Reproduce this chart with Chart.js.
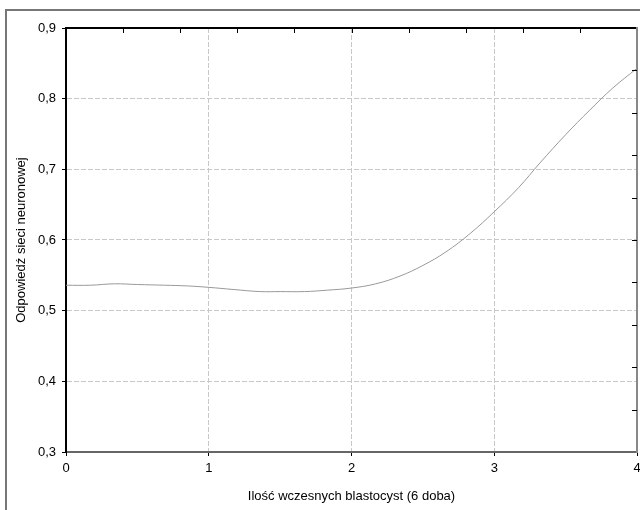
<!DOCTYPE html>
<html>
<head>
<meta charset="utf-8">
<script src="https://cdn.jsdelivr.net/npm/chart.js@4/dist/chart.umd.min.js"></script>
<style>
  body { margin: 0; background: #fff; }
  #wrap { position: relative; width: 640px; height: 510px; overflow: hidden; }
  #frame { position: absolute; left: 5px; top: 9px; width: 700px; height: 600px;
           border-left: 2px solid #777; border-top: 2px solid #777; }
  canvas { position: absolute; left: 0; top: 0; }
</style>
</head>
<body>
<div id="wrap">
  <div id="frame"></div>
  <canvas id="chart" width="640" height="510"></canvas>
</div>
<script>
// values
const xValues = [0, 0.17, 0.34, 0.5, 0.69, 0.85, 1.0, 1.17, 1.36, 1.5, 1.67, 1.83, 2.0, 2.17, 2.34, 2.5, 2.66, 2.83, 3.0, 3.17, 3.32, 3.5, 3.67, 3.83, 4.0];
const yValues = [0.536, 0.536, 0.538, 0.537, 0.536, 0.535, 0.533, 0.530, 0.527, 0.527, 0.527, 0.529, 0.532, 0.538, 0.549, 0.564, 0.583, 0.609, 0.640, 0.674, 0.709, 0.749, 0.784, 0.815, 0.843];

const xTitle = "Ilość wczesnych blastocyst (6 doba)";
const yTitle = "Odpowiedź sieci neuronowej";

const fontFam = "'Liberation Sans', Arial, sans-serif";

// inner tick marks on the top and right frame
const innerTicks = {
  id: 'innerTicks',
  afterDraw(chart) {
    const ctx = chart.ctx, a = chart.chartArea;
    const top = chart.scales.x2, right = chart.scales.y2;
    ctx.save();
    ctx.strokeStyle = '#000';
    ctx.lineWidth = 1;
    top.ticks.forEach(t => {
      if (t.value <= 0 || t.value >= 4) return;
      const px = Math.round(top.getPixelForValue(t.value)) + 0.5;
      ctx.beginPath(); ctx.moveTo(px, a.top); ctx.lineTo(px, a.top + 5); ctx.stroke();
    });
    right.ticks.forEach(t => {
      if (t.value <= 0.3 || t.value >= 0.9) return;
      const py = Math.round(right.getPixelForValue(t.value)) + 0.5;
      ctx.beginPath(); ctx.moveTo(a.right, py); ctx.lineTo(a.right - 5, py); ctx.stroke();
    });
    ctx.restore();
  }
};

const gridColor = ctx => (ctx.tick && ctx.index > 0 && ctx.index < ctx.scale.ticks.length - 1) ? '#c8c8c8' : 'rgba(0,0,0,0)';

new Chart(document.getElementById('chart'), {
  type: 'line',
  data: {
    datasets: [{
      data: xValues.map((x, i) => ({x: x, y: yValues[i]})),
      borderColor: '#999',
      borderWidth: 1,
      pointRadius: 0,
      tension: 0.4,
      fill: false
    }]
  },
  plugins: [innerTicks],
  options: {
    responsive: false,
    animation: false,
    events: [],
    layout: { padding: { left: 0, top: 28, right: 3, bottom: 0 } },
    plugins: { legend: { display: false }, tooltip: { enabled: false } },
    scales: {
      x: {
        type: 'linear', position: 'bottom', min: 0, max: 4,
        afterFit: s => { s.height = 58; s.paddingLeft = 0; s.paddingRight = 0; },
        ticks: { stepSize: 1, color: '#000', padding: 5, font: { family: fontFam, size: 13 }, maxRotation: 0 },
        grid: { color: gridColor, tickColor: '#000', tickLength: 4, lineWidth: 1 },
        border: { color: '#666', width: 2, dash: [5, 2] },
        title: { display: true, text: xTitle, color: '#000', font: { family: fontFam, size: 13 }, padding: { top: 0, bottom: 6 } }
      },
      y: {
        type: 'linear', position: 'left', min: 0.3, max: 0.9,
        afterFit: s => { s.width = 66; },
        ticks: { stepSize: 0.1, color: '#000', padding: 6, font: { family: fontFam, size: 13 },
                 callback: v => v.toFixed(1).replace('.', ',') },
        grid: { color: gridColor, tickColor: '#000', tickLength: 4, lineWidth: 1 },
        border: { color: '#000', width: 2, dash: [5, 2] },
        title: { display: true, text: yTitle, color: '#000', font: { family: fontFam, size: 13 }, padding: { top: 14, bottom: 0 } }
      },
      x2: {
        type: 'linear', position: 'top', min: 0, max: 4,
        afterFit: s => { s.height = 0; s.paddingLeft = 0; s.paddingRight = 0; },
        ticks: { stepSize: 0.4, display: false },
        grid: { drawOnChartArea: false, drawTicks: false },
        border: { color: '#000', width: 2 }
      },
      y2: {
        type: 'linear', position: 'right', min: 0.3, max: 0.9,
        afterFit: s => { s.width = 0; },
        ticks: { stepSize: 0.06, display: false },
        grid: { drawOnChartArea: false, drawTicks: false },
        border: { color: '#888', width: 2 }
      }
    }
  }
});
</script>
</body>
</html>
